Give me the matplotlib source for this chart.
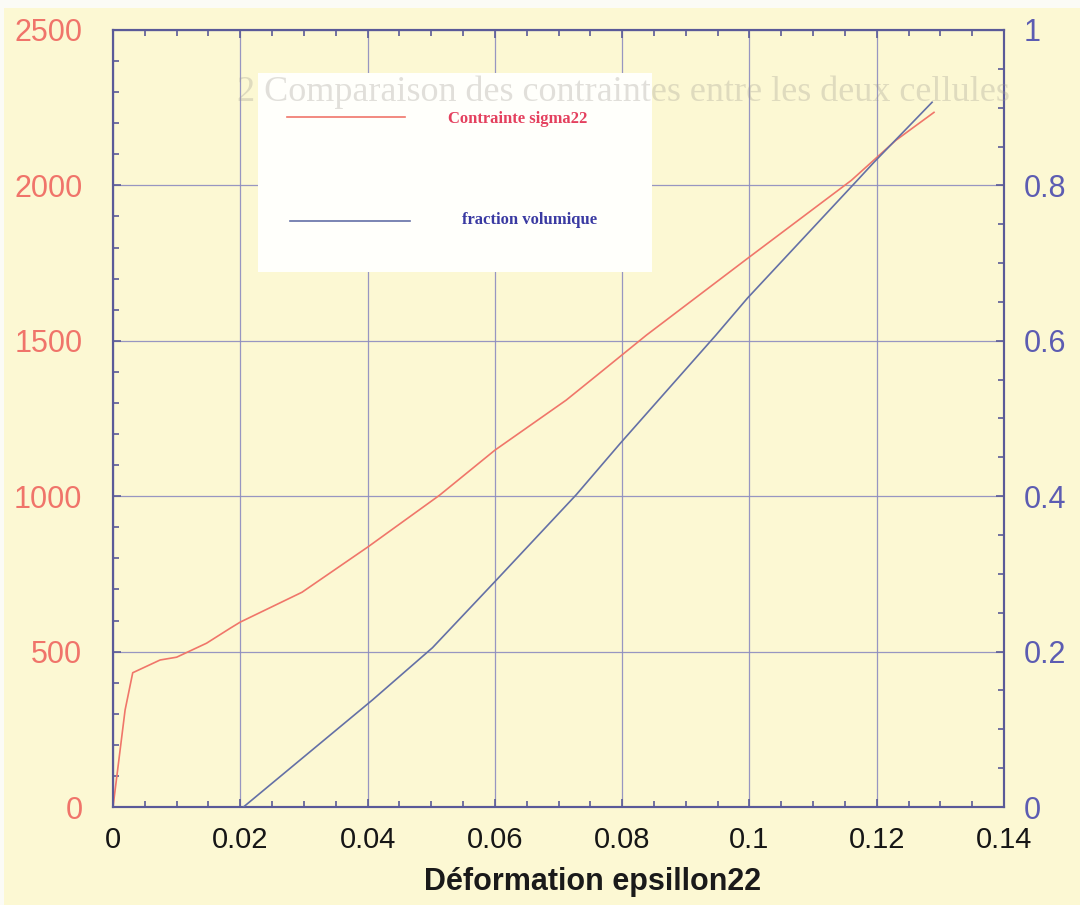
import matplotlib
matplotlib.use("Agg")
import matplotlib.pyplot as plt
from matplotlib.ticker import MultipleLocator, FixedLocator
from matplotlib.patches import Rectangle
from matplotlib.lines import Line2D

# ---------------- data ----------------
strain_sigma = [0.0, 0.0019, 0.0031, 0.0074, 0.0100, 0.0147, 0.0184, 0.0200,
                0.0297, 0.0400, 0.0513, 0.0600, 0.0712, 0.0764, 0.0838,
                0.0997, 0.1160, 0.1230, 0.1290]
sigma22 = [0, 312, 432, 473, 482, 527, 575, 595,
           691, 836, 1003, 1148, 1309, 1395, 1518,
           1765, 2016, 2145, 2235]

strain_frac = [0.0205, 0.0408, 0.0502, 0.0600, 0.0728, 0.0797, 0.0947,
               0.0997, 0.1170, 0.1196, 0.1287]
fraction_vol = [0.0, 0.138, 0.205, 0.290, 0.402, 0.468, 0.607,
                0.655, 0.807, 0.830, 0.907]

x_ticks = [0, 0.02, 0.04, 0.06, 0.08, 0.1, 0.12, 0.14]
x_ticklabels = ["0", "0.02", "0.04", "0.06", "0.08", "0.1", "0.12", "0.14"]
yl_ticks = [0, 500, 1000, 1500, 2000, 2500]
yr_ticks = [0, 0.2, 0.4, 0.6, 0.8, 1.0]
yr_ticklabels = ["0", "0.2", "0.4", "0.6", "0.8", "1"]

label_sigma = "Contrainte sigma22"
label_frac = "fraction volumique"
xlabel = "Déformation epsillon22"
ghost_title = "2 Comparaison des contraintes entre les deux cellules"

# ---------------- style ----------------
BG = "#fcf8d3"
SPINE = "#5a5a98"
GRID = "#8c8cc0"
RED = "#f0766a"
BLUE_LINE = "#6470a6"
LEFT_LBL = "#f0746a"
RIGHT_LBL = "#5c5cb2"

plt.rcParams["font.family"] = ["Liberation Sans", "DejaVu Sans"]

fig = plt.figure(figsize=(10.8, 9.05), dpi=100, facecolor=BG)
ax = fig.add_axes([113 / 1080, 1 - 807 / 905, 891 / 1080, 777 / 905])
ax.set_facecolor(BG)
ax2 = ax.twinx()

# curves
ax.plot(strain_sigma, sigma22, color=RED, lw=1.2, zorder=3)
ax2.plot(strain_frac, fraction_vol, color=BLUE_LINE, lw=1.2, zorder=3)

# limits & ticks
ax.set_xlim(0, 0.14)
ax.set_ylim(0, 2500)
ax2.set_ylim(0, 1)

ax.xaxis.set_major_locator(FixedLocator(x_ticks))
ax.set_xticklabels(x_ticklabels)
ax.xaxis.set_minor_locator(MultipleLocator(0.005))
ax.yaxis.set_major_locator(FixedLocator(yl_ticks))
ax.yaxis.set_minor_locator(MultipleLocator(100))
ax2.yaxis.set_major_locator(FixedLocator(yr_ticks))
ax2.set_yticklabels(yr_ticklabels)
ax2.yaxis.set_minor_locator(MultipleLocator(0.05))

ax.tick_params(axis="x", which="both", direction="in", top=True, bottom=True,
               color=SPINE, labelsize=21, labelcolor="#161616", pad=14)
ax.tick_params(axis="y", which="both", direction="in", left=True, right=False,
               color=SPINE, labelsize=22, labelcolor=LEFT_LBL, pad=22)
ax2.tick_params(axis="y", which="both", direction="in", right=True, left=False,
                color=SPINE, labelsize=22, labelcolor=RIGHT_LBL, pad=14)
for a in (ax, ax2):
    a.tick_params(which="major", length=6, width=1.2)
    a.tick_params(which="minor", length=4, width=1.2)
    for s in a.spines.values():
        s.set_color(SPINE)
        s.set_linewidth(1.5)

ax.grid(True, which="major", color=GRID, lw=0.9, alpha=0.9)
ax.set_axisbelow(True)

# legend box (drawn on the top axes so it covers the grid)
ax2.add_patch(Rectangle((0.1627, 0.6885), 0.605 - 0.1627, 0.9447 - 0.6885,
                        transform=ax2.transAxes, facecolor="#fffffb",
                        edgecolor="none", zorder=5))
ax2.add_line(Line2D([0.1953, 0.3277], [0.888, 0.888], transform=ax2.transAxes,
                    color=RED, lw=1.2, zorder=6))
ax2.text(0.376, 0.886, label_sigma, transform=ax2.transAxes, color="#e4405e",
         fontsize=12, fontweight="bold", family=["Liberation Serif"],
         va="center", ha="left", zorder=6)
ax2.add_line(Line2D([0.1987, 0.3333], [0.7542, 0.7542], transform=ax2.transAxes,
                    color=BLUE_LINE, lw=1.2, zorder=6))
ax2.text(0.3917, 0.7555, label_frac, transform=ax2.transAxes, color="#3a3aa2",
         fontsize=12, fontweight="bold", family=["Liberation Serif"],
         va="center", ha="left", zorder=6)

# x label
fig.text(593 / 1080, 1 - 890 / 905, xlabel, ha="center", va="baseline",
         fontsize=22, fontweight="bold", color="#1a1a1a")

# faint bleed-through title of the scanned page
fig.text(237 / 1080, 1 - 101 / 905, ghost_title, ha="left", va="baseline",
         fontsize=26, family=["Liberation Serif"], color="#9c9890",
         alpha=0.3, zorder=10)

# page edge of the scan
fig.patches.append(Rectangle((0, 1 - 8 / 905), 1, 8 / 905,
                             transform=fig.transFigure, facecolor="#fbfbf6",
                             edgecolor="none", zorder=-1))
fig.patches.append(Rectangle((0, 0), 4 / 1080, 1,
                             transform=fig.transFigure, facecolor="#fbfbf6",
                             edgecolor="none", zorder=-1))

fig.savefig("out.png", dpi=100, facecolor=BG)
